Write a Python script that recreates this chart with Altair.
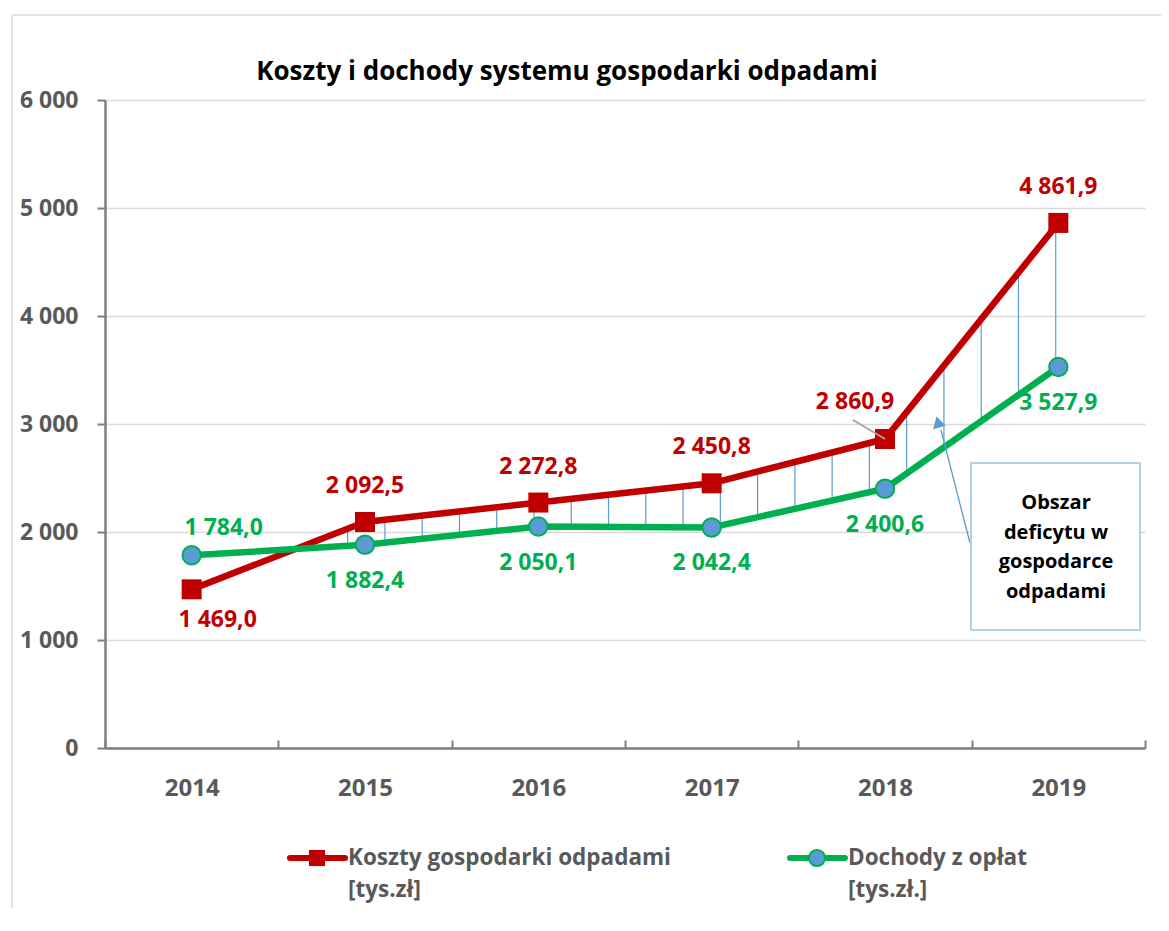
import altair as alt
import pandas as pd
import numpy as np

# ---------------- data ----------------
years = ["2014", "2015", "2016", "2017", "2018", "2019"]
costs = [1469.0, 2092.5, 2272.8, 2450.8, 2860.9, 4861.9]
income = [1784.0, 1882.4, 2050.1, 2042.4, 2400.6, 3527.9]
y_ticks = [0, 1000, 2000, 3000, 4000, 5000, 6000]
title_text = "Koszty i dochody systemu gospodarki odpadami"
series_names = ["Koszty gospodarki odpadami", "Dochody z opłat"]
series_units = ["[tys.zł]", "[tys.zł.]"]
box_lines = ["Obszar", "deficytu  w", "gospodarce", "odpadami"]

# ---------------- style ----------------
RED = "#C00000"
GREEN = "#00B050"
BLUE = "#5B9BD5"
GRAY = "#595959"
AXIS = "#7F7F7F"
FONT = "Open Sans"
W, H = 1040, 648
PAD_BOTTOM = 160


def fmt(v):
    return f"{v:,.1f}".replace(",", " ").replace(".", ",")


df = pd.DataFrame({"year": years, "cost": costs, "income": income})
df["cost_label"] = [fmt(v) for v in costs]
df["income_label"] = [fmt(v) for v in income]

# hatching between the curves (decoration, derived from the data arrays)
idx = np.arange(len(years))
hx = np.arange(0.9, 5.0001, 0.215)
htop = np.interp(hx, idx, costs)
hbot = np.interp(hx, idx, income)
hatch_df = pd.DataFrame({"i": hx, "top": htop, "bot": hbot})
hatch_df = hatch_df[hatch_df["top"] > hatch_df["bot"]]

xscale = alt.Scale(type="band", domain=years, paddingInner=0, paddingOuter=0)
yscale = alt.Scale(domain=[0, 6000], nice=False, zero=True)

x_axis = alt.Axis(
    title=None, orient="bottom", tickBand="extent", labelAngle=0,
    labelFont=FONT, labelFontSize=24, labelFontWeight="bold", labelColor=GRAY,
    labelPadding=36, tickSize={"expr": "-8"}, tickColor=AXIS, tickWidth=2,
    domainColor=AXIS, domainWidth=2.5, grid=False,
)
y_axis = alt.Axis(
    title=None, values=y_ticks,
    labelExpr="replace(format(datum.value, ','), ',', ' ')",
    labelFont=FONT, labelFontSize=23, labelFontWeight="bold", labelColor=GRAY,
    labelPadding=19, tickSize=8, tickColor=AXIS, tickWidth=2,
    domainColor=AXIS, domainWidth=2.5,
    grid=True, gridColor="#D9D9D9", gridWidth=1.5,
)

X = alt.X("year:N", scale=xscale, axis=x_axis)


def Y(field):
    return alt.Y(f"{field}:Q", scale=yscale, axis=y_axis)


base = alt.Chart(df)

cost_line = base.mark_line(color=RED, strokeWidth=6.5).encode(x=X, y=Y("cost"))
cost_pts = base.mark_point(shape="square", filled=True, color=RED, size=400, opacity=1).encode(x=X, y=Y("cost"))
inc_line = base.mark_line(color=GREEN, strokeWidth=6.5).encode(x=X, y=Y("income"))
inc_pts = base.mark_point(shape="circle", filled=True, fill=BLUE, stroke=GREEN, strokeWidth=2,
                          size=340, opacity=1).encode(x=X, y=Y("income"))


def labels(field, color, yrs, dx, dy):
    return (
        base.transform_filter(alt.FieldOneOfPredicate(field="year", oneOf=yrs))
        .mark_text(font=FONT, fontSize=23, fontWeight="bold", color=color,
                   dx=dx, dy=dy, baseline="middle", align="center")
        .encode(x=X, y=Y(field), text=f"{field}_label:N")
    )


lab_layers = [
    labels("cost", RED, ["2014"], 26, 31),
    labels("cost", RED, ["2015", "2016", "2017", "2019"], 0, -36),
    labels("cost", RED, ["2018"], -30, -37),
    labels("income", GREEN, ["2014"], 32, -27),
    labels("income", GREEN, ["2015", "2016", "2017", "2018", "2019"], 0, 36),
]

one = alt.Chart(pd.DataFrame({"k": [0]}))

frame_top = one.mark_rule(color="#D9D9D9", strokeWidth=1.5).encode(
    x=alt.value(-93), x2=alt.value(1056), y=alt.value(-85))
frame_left = one.mark_rule(color="#D9D9D9", strokeWidth=1.5).encode(
    x=alt.value(-93), y=alt.value(-85), y2=alt.value(H + PAD_BOTTOM))

title = one.mark_text(font=FONT, fontSize=26, fontWeight="bold", color="black",
                      align="center", baseline="alphabetic").encode(
    x=alt.value(462), y=alt.value(-20), text=alt.value(title_text))

leader = one.mark_rule(color="#A6A6A6", strokeWidth=2).encode(
    x=alt.value(748), y=alt.value(320), x2=alt.value(780), y2=alt.value(339))

box = one.mark_rect(fill="white", stroke="#9DC3E6", strokeWidth=1.5).encode(
    x=alt.value(866), x2=alt.value(1035), y=alt.value(363), y2=alt.value(530))
box_text = one.mark_text(font=FONT, fontSize=20, fontWeight="bold", color="black",
                         align="center", baseline="middle", lineBreak="\n",
                         lineHeight=29.7).encode(
    x=alt.value(951), y=alt.value(403), text=alt.value("\n".join(box_lines)))
arrow = one.mark_rule(color=BLUE, strokeWidth=1.3).encode(
    x=alt.value(865), y=alt.value(443), x2=alt.value(836), y2=alt.value(330))
arrow_head = one.mark_point(shape="triangle-up", filled=True, color=BLUE, size=170,
                            opacity=1, angle=345).encode(x=alt.value(833), y=alt.value(322))

# legend (drawn)
leg_font = dict(font=FONT, fontSize=22.5, fontWeight="bold", color=GRAY, align="left", baseline="middle")
leg = [
    one.mark_rule(color=RED, strokeWidth=6, strokeCap="round").encode(
        x=alt.value(185), x2=alt.value(240), y=alt.value(758)),
    one.mark_point(shape="square", filled=True, color=RED, size=260, opacity=1).encode(
        x=alt.value(212), y=alt.value(758)),
    one.mark_text(**leg_font).encode(x=alt.value(243), y=alt.value(758), text=alt.value(series_names[0])),
    one.mark_text(**leg_font).encode(x=alt.value(243), y=alt.value(790), text=alt.value(series_units[0])),
    one.mark_rule(color=GREEN, strokeWidth=6, strokeCap="round").encode(
        x=alt.value(685), x2=alt.value(740), y=alt.value(758)),
    one.mark_point(shape="circle", filled=True, fill=BLUE, stroke=GREEN, strokeWidth=2,
                   size=260, opacity=1).encode(x=alt.value(712), y=alt.value(758)),
    one.mark_text(**leg_font).encode(x=alt.value(743), y=alt.value(758), text=alt.value(series_names[1])),
    one.mark_text(**leg_font).encode(x=alt.value(743), y=alt.value(790), text=alt.value(series_units[1])),
]

hatch = alt.Chart(hatch_df).mark_rule(color=BLUE, strokeWidth=1.2).encode(
    x=alt.X("i:Q", scale=alt.Scale(domain=[-0.5, 5.5], nice=False, zero=False), axis=None),
    y=Y("top"),
    y2="bot:Q",
)

main = alt.layer(frame_top, frame_left, title, cost_line, inc_line, cost_pts, inc_pts, *lab_layers,
                 leader, arrow, arrow_head, box, box_text, *leg)

chart = (
    alt.layer(hatch, main)
    .resolve_scale(x="independent")
    .properties(
        width=W, height=H,
        autosize=alt.AutoSizeParams(type="none"),
        padding={"left": 97, "top": 92, "right": 16, "bottom": PAD_BOTTOM},
        background="white",
    )
    .configure_view(stroke=None)
)

chart.save("out.html", embed_options={"renderer": "svg", "actions": False})
